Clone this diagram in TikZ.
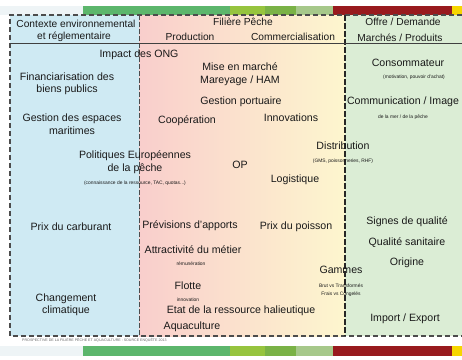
\documentclass[tikz,border=0pt]{standalone}
\usepackage{fontspec}
\setmainfont{Liberation Sans}
\definecolor{ctxblue}{RGB}{207,234,243}
\definecolor{filpink}{RGB}{249,206,204}
\definecolor{filyellow}{RGB}{253,246,206}
\definecolor{mktgreen}{RGB}{219,237,213}
\definecolor{barpale}{RGB}{238,244,246}
\definecolor{barmid}{RGB}{92,182,108}
\definecolor{barlime}{RGB}{150,196,62}
\definecolor{barleaf}{RGB}{122,178,70}
\definecolor{barsage}{RGB}{166,200,138}
\definecolor{barred}{RGB}{152,26,30}
\definecolor{baryellow}{RGB}{246,214,0}
\tikzset{
  lbl/.style={font=\fontsize{10.6}{12.5}\selectfont, inner sep=0pt, align=center, text=black!90},
  head/.style={lbl, font=\fontsize{10.2}{12}\selectfont},
  note/.style={font=\fontsize{4.9}{6}\selectfont, inner sep=0pt, align=center, text=black!90},
  frameline/.style={dash pattern=on 5pt off 3pt, line width=1.3pt, draw=black!70},
}
\begin{document}
\begin{tikzpicture}[x=1pt,y=-1pt]
  \useasboundingbox (0,0) rectangle (462,359);
  % fonds des colonnes
  \fill[ctxblue] (10,15) rectangle (139,336);
  \shade[left color=filpink, right color=filyellow] (139,15) rectangle (345,336);
  \fill[mktgreen] (345,15) rectangle (462,336);
  % bandes de couleur
  \foreach \ya/\yb in {6/15, 346/356} {
    \fill[barpale] (0,\ya) rectangle (83,\yb);
    \fill[barmid] (83,\ya) rectangle (230,\yb);
    \fill[barlime] (230,\ya) rectangle (265,\yb);
    \fill[barleaf] (265,\ya) rectangle (296,\yb);
    \fill[barsage] (296,\ya) rectangle (333,\yb);
    \fill[barred] (333,\ya) rectangle (452,\yb);
    \fill[baryellow] (452,\ya) rectangle (462,\yb);
  }
  % cadre
  \draw[frameline] (470,15) -- (10,15) -- (10,336) -- (470,336);
  \draw[dash pattern=on 5pt off 2pt, line width=0.9pt, draw=black!70] (139,15) -- (139,336);
  \draw[dash pattern=on 6pt off 2pt, line width=1.2pt, draw=black!85] (345,15) -- (345,336);
  \draw[line width=0.9pt, draw=black!75] (10,43) -- (462,43);
  % en-tetes
  \node[head] (ctx1) at (76,24) {Contexte environnemental};
  \node[head] (ctx2) at (74,37) {et réglementaire};
  \node[head] (fil) at (243,22) {Filière Pêche};
  \node[head] (prod) at (190,37) {Production};
  \node[head] (comm) at (293,37) {Commercialisation};
  \node[head] (offre) at (403,22) {Offre / Demande};
  \node[head] (march) at (400,38) {Marchés / Produits};
  % contexte
  \node[lbl] (ong) at (139,55) {Impact des ONG};
  \node[lbl] (fin) at (67,84) {Financiarisation des\\biens publics};
  \node[lbl] (gem) at (72,124) {Gestion des espaces\\maritimes};
  \node[lbl] (pol) at (135,162) {Politiques Européennes\\de la pêche};
  \node[note] (polnote) at (135,183) {(connaissance de la ressource, TAC, quotas...)};
  \node[lbl] (carb) at (71,227) {Prix du carburant};
  \node[lbl] (clim) at (66,305) {Changement\\climatique};
  % filiere
  \node[lbl] (mise) at (240,74) {Mise en marché\\Mareyage / HAM};
  \node[lbl] (port) at (241,102) {Gestion portuaire};
  \node[lbl] (coop) at (187,121) {Coopération};
  \node[lbl] (innov) at (291,118) {Innovations};
  \node[lbl] (distr) at (343,146) {Distribution};
  \node[note] (distrnote) at (343,161) {(GMS, poissonneries, RHF)};
  \node[lbl] (op) at (240,165) {OP};
  \node[lbl] (logi) at (295,180) {Logistique};
  \node[lbl] (prev) at (190,226) {Prévisions d'apports};
  \node[lbl] (prixp) at (296,227) {Prix du poisson};
  \node[lbl] (attr) at (193,250) {Attractivité du métier};
  \node[note] (attrnote) at (191,264) {rémunération};
  \node[lbl] (flot) at (188,286) {Flotte};
  \node[note] (flotnote) at (188,300) {innovation};
  \node[lbl] (etat) at (241,311) {Etat de la ressource halieutique};
  \node[lbl] (aqua) at (192,327) {Aquaculture};
  \node[lbl] (gam) at (341,270) {Gammes};
  \node[note] (gamnote) at (341,290) {Brut vs Transformés\\[1.5pt]Frais vs Congelés};
  % marches
  \node[lbl] (conso) at (408,63) {Consommateur};
  \node[note] (consonote) at (414,77) {(motivation, pouvoir d'achat)};
  \node[lbl] (image) at (403,102) {Communication / Image};
  \node[note] (imagenote) at (403,117) {de la mer / de la pêche};
  \node[lbl] (signe) at (407,222) {Signes de qualité};
  \node[lbl] (sanit) at (407,243) {Qualité sanitaire};
  \node[lbl] (orig) at (407,263) {Origine};
  \node[lbl] (impex) at (405,319) {Import / Export};
  % source
  \node[note, anchor=west, text=black!60, font=\fontsize{3.6}{4}\selectfont] (src) at (22,340) {PROSPECTIVE DE LA FILIÈRE PÊCHE ET AQUACULTURE : SOURCE ENQUÊTE 2013};
\end{tikzpicture}
\end{document}
